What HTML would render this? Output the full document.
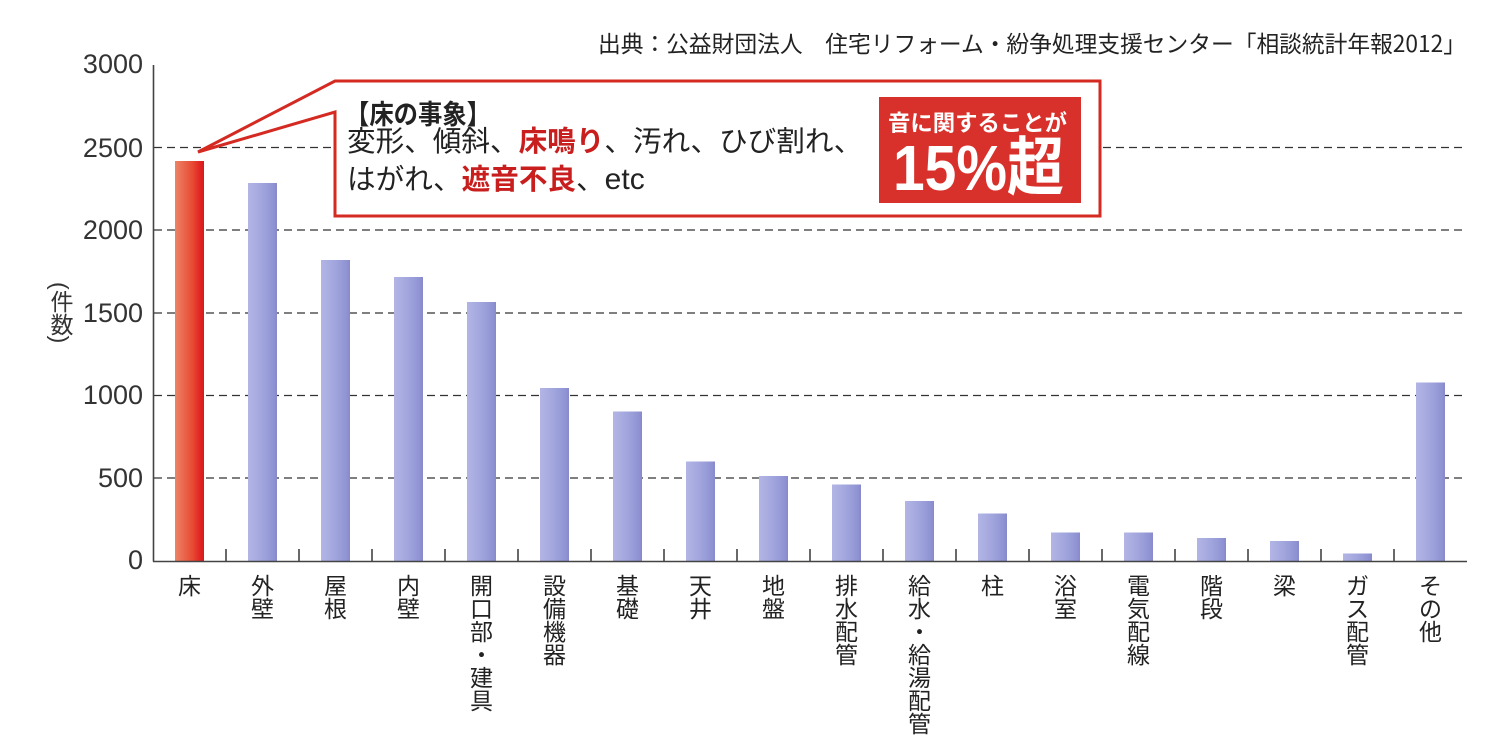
<!DOCTYPE html>
<html><head><meta charset="utf-8"><style>
html,body{margin:0;padding:0;background:#fff;}
body{position:relative;width:1497px;height:756px;overflow:hidden;}
svg{display:block;}
text{font-family:"Liberation Sans","Noto Sans CJK JP",sans-serif;}
.jp{font-family:"Noto Sans CJK JP",sans-serif;}
#yt{position:absolute;left:48px;top:282px;width:24px;writing-mode:vertical-rl;text-orientation:mixed;font-family:"Liberation Sans","Noto Sans CJK JP",sans-serif;font-size:23px;line-height:24px;color:#333;white-space:nowrap;}
</style></head><body>
<svg width="1497" height="756" viewBox="0 0 1497 756" xmlns="http://www.w3.org/2000/svg">
<defs>
<linearGradient id="gr" x1="0" y1="0" x2="1" y2="0">
<stop offset="0" stop-color="#ec8466"/><stop offset="0.6" stop-color="#e84a34"/><stop offset="0.9" stop-color="#e02020"/><stop offset="1" stop-color="#d41a1a"/>
</linearGradient>
<linearGradient id="gb" x1="0" y1="0" x2="1" y2="0">
<stop offset="0" stop-color="#b2b5e4"/><stop offset="0.5" stop-color="#a1a5dd"/><stop offset="0.9" stop-color="#8e92d2"/><stop offset="1" stop-color="#868acb"/>
</linearGradient>
</defs>
<rect width="1497" height="756" fill="#fff"/>

<!-- source -->
<text class="jp" x="598" y="52" font-size="23" fill="#222" textLength="868" lengthAdjust="spacingAndGlyphs">出典：公益財団法人　住宅リフォーム・紛争処理支援センター「相談統計年報2012」</text>

<!-- grid -->
<g stroke="#333" stroke-width="1.2" stroke-dasharray="8 5">
<line x1="154" y1="147.5" x2="1467" y2="147.5"/>
<line x1="154" y1="230" x2="1467" y2="230"/>
<line x1="154" y1="313" x2="1467" y2="313"/>
<line x1="154" y1="395.5" x2="1467" y2="395.5"/>
<line x1="154" y1="478" x2="1467" y2="478"/>
</g>

<!-- y labels -->
<g font-size="27" fill="#333" text-anchor="end">
<text x="143" y="73">3000</text>
<text x="143" y="157">2500</text>
<text x="143" y="239">2000</text>
<text x="143" y="322">1500</text>
<text x="143" y="404">1000</text>
<text x="143" y="487">500</text>
<text x="143" y="569">0</text>
</g>

<!-- bars -->
<g>
<rect x="175" y="161" width="29" height="400" fill="url(#gr)"/>
<rect x="248" y="183" width="29" height="378" fill="url(#gb)"/>
<rect x="321" y="260" width="29" height="301" fill="url(#gb)"/>
<rect x="394" y="277" width="29" height="284" fill="url(#gb)"/>
<rect x="467" y="302" width="29" height="259" fill="url(#gb)"/>
<rect x="540" y="388" width="29" height="173" fill="url(#gb)"/>
<rect x="613" y="411.5" width="29" height="149.5" fill="url(#gb)"/>
<rect x="686" y="461.5" width="29" height="99.5" fill="url(#gb)"/>
<rect x="759" y="476" width="29" height="85" fill="url(#gb)"/>
<rect x="832" y="484.5" width="29" height="76.5" fill="url(#gb)"/>
<rect x="905" y="501" width="29" height="60" fill="url(#gb)"/>
<rect x="978" y="513.5" width="29" height="47.5" fill="url(#gb)"/>
<rect x="1051" y="532.5" width="29" height="28.5" fill="url(#gb)"/>
<rect x="1124" y="532.5" width="29" height="28.5" fill="url(#gb)"/>
<rect x="1197" y="538" width="29" height="23" fill="url(#gb)"/>
<rect x="1270" y="541" width="29" height="20" fill="url(#gb)"/>
<rect x="1343" y="553.5" width="29" height="7.5" fill="url(#gb)"/>
<rect x="1416" y="382.5" width="29" height="178.5" fill="url(#gb)"/>
</g>

<!-- axes -->
<g stroke="#444" stroke-width="1.6" fill="none">
<line x1="153.5" y1="65" x2="153.5" y2="561.5"/>
<line x1="153" y1="561.5" x2="1467" y2="561.5"/>
<path d="M226,561V549M299,561V549M372,561V549M445,561V549M518,561V549M591,561V549M664,561V549M737,561V549M810,561V549M883,561V549M956,561V549M1029,561V549M1102,561V549M1175,561V549M1248,561V549M1321,561V549M1394,561V549"/>
</g>

<!-- x labels -->
<g class="jp" font-size="23" fill="#222" text-anchor="middle">
<text x="189.5" y="594">床</text>
<text x="262.5" y="594">外</text><text x="262.5" y="617">壁</text>
<text x="335.5" y="594">屋</text><text x="335.5" y="617">根</text>
<text x="408.5" y="594">内</text><text x="408.5" y="617">壁</text>
<text x="481.5" y="594">開</text><text x="481.5" y="617">口</text><text x="481.5" y="640">部</text><text x="481.5" y="663">・</text><text x="481.5" y="686">建</text><text x="481.5" y="709">具</text>
<text x="554.5" y="594">設</text><text x="554.5" y="617">備</text><text x="554.5" y="640">機</text><text x="554.5" y="663">器</text>
<text x="627.5" y="594">基</text><text x="627.5" y="617">礎</text>
<text x="700.5" y="594">天</text><text x="700.5" y="617">井</text>
<text x="773.5" y="594">地</text><text x="773.5" y="617">盤</text>
<text x="846.5" y="594">排</text><text x="846.5" y="617">水</text><text x="846.5" y="640">配</text><text x="846.5" y="663">管</text>
<text x="919.5" y="594">給</text><text x="919.5" y="617">水</text><text x="919.5" y="640">・</text><text x="919.5" y="663">給</text><text x="919.5" y="686">湯</text><text x="919.5" y="709">配</text><text x="919.5" y="732">管</text>
<text x="992.5" y="594">柱</text>
<text x="1065.5" y="594">浴</text><text x="1065.5" y="617">室</text>
<text x="1138.5" y="594">電</text><text x="1138.5" y="617">気</text><text x="1138.5" y="640">配</text><text x="1138.5" y="663">線</text>
<text x="1211.5" y="594">階</text><text x="1211.5" y="617">段</text>
<text x="1284.5" y="594">梁</text>
<text x="1357.5" y="594">ガ</text><text x="1357.5" y="617">ス</text><text x="1357.5" y="640">配</text><text x="1357.5" y="663">管</text>
<text x="1430.5" y="594">そ</text><text x="1430.5" y="617">の</text><text x="1430.5" y="640">他</text>
</g>

<!-- callout -->
<path d="M198,152 L335,81 L1100,81 L1100,216 L335,216 L335,112 Z" fill="#fff" stroke="#d42a22" stroke-width="3" stroke-linejoin="miter"/>
<text class="jp" x="345" y="124" font-size="27" font-weight="bold" fill="#222" textLength="146" lengthAdjust="spacingAndGlyphs">【床の事象】</text>
<text x="347" y="151" font-size="28.6" fill="#222"><tspan class="jp">変形、傾斜、</tspan><tspan class="jp" fill="#c81e1e" font-weight="bold">床鳴り</tspan><tspan class="jp">、汚れ、ひび割れ、</tspan></text>
<text x="347" y="189" font-size="28.6" fill="#222"><tspan class="jp">はがれ、</tspan><tspan class="jp" fill="#c81e1e" font-weight="bold">遮音不良</tspan><tspan class="jp">、</tspan><tspan font-family="Liberation Sans" font-size="30">etc</tspan></text>

<rect x="879" y="97" width="202" height="106" fill="#d8312b"/>
<text class="jp" x="888" y="131" font-size="22.5" font-weight="bold" fill="#fff" textLength="179" lengthAdjust="spacingAndGlyphs">音に関することが</text>
<text x="893" y="190" font-size="64" font-weight="bold" fill="#fff" textLength="171" lengthAdjust="spacingAndGlyphs">15%<tspan class="jp">超</tspan></text>
</svg>
<div id="yt">(件数)</div>
</body></html>
